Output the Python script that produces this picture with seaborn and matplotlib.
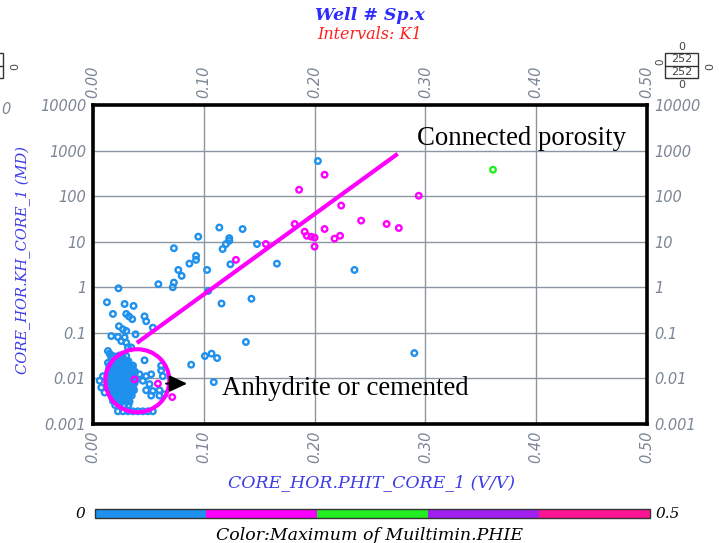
import matplotlib
matplotlib.use("Agg")
import matplotlib.pyplot as plt
import matplotlib.transforms as mtransforms
from matplotlib.patches import Ellipse, Rectangle
from matplotlib.colors import ListedColormap, BoundaryNorm
import numpy as np
import pandas as pd
import seaborn as sns

# ---- core data: porosity (v/v) and horizontal permeability (mD) ----
# samples with Multimin PHIE in 0.0-0.1 (scattered part)
phit_low = [
    0.203, 0.236, 0.166, 0.148, 0.135, 0.114, 0.123, 0.123, 0.120, 0.117,
    0.124, 0.095, 0.093, 0.093, 0.087, 0.103, 0.073, 0.077, 0.080, 0.073,
    0.072, 0.104, 0.143, 0.059, 0.023, 0.116,
    0.0126, 0.0285, 0.0366, 0.018, 0.030, 0.0324, 0.0354, 0.0465, 0.048, 0.0234,
    0.027, 0.030, 0.0384, 0.054, 0.0165, 0.0225, 0.0285, 0.0255, 0.030, 0.0315,
    0.0345, 0.0135, 0.015, 0.0165, 0.018, 0.0135, 0.015, 0.0465, 0.036, 0.0615,
    0.0886, 0.101, 0.107, 0.112, 0.109, 0.138, 0.290,
    0.042, 0.048, 0.0525, 0.0615, 0.063, 0.045, 0.051, 0.048, 0.054, 0.060,
    0.0525, 0.060, 0.0645,
    0.0225, 0.027, 0.0315, 0.036, 0.0405, 0.045, 0.0495, 0.054,
    0.006, 0.0075, 0.0105, 0.009,
]
perm_low = [
    590, 2.4, 3.3, 8.9, 19, 20.5, 12, 10.5, 8.9, 6.9,
    3.2, 12.9, 4.9, 4.0, 3.3, 2.4, 7.2, 2.4, 1.78, 1.27,
    1.0, 0.83, 0.56, 1.17, 0.95, 0.44,
    0.47, 0.43, 0.39, 0.26, 0.26, 0.23, 0.20, 0.23, 0.18, 0.14,
    0.12, 0.11, 0.093, 0.13, 0.085, 0.081, 0.079, 0.066, 0.061, 0.048,
    0.048, 0.040, 0.035, 0.029, 0.026, 0.022, 0.019, 0.025, 0.019, 0.019,
    0.020, 0.031, 0.035, 0.028, 0.0083, 0.063, 0.036,
    0.0123, 0.0112, 0.0123, 0.015, 0.0112, 0.0089, 0.0075, 0.0055, 0.0053, 0.0055,
    0.0042, 0.0042, 0.0045,
    0.0019, 0.0019, 0.0019, 0.0019, 0.0019, 0.0019, 0.0019, 0.0019,
    0.0089, 0.0063, 0.0049, 0.0112,
]

# samples with Multimin PHIE in 0.0-0.1 (dense tight cluster)
phit_cluster = [
    0.018, 0.021, 0.024, 0.027, 0.030,
    0.0215,
    0.017, 0.020, 0.023, 0.026, 0.029, 0.032,
    0.0165, 0.0195, 0.0225, 0.0255, 0.0285, 0.0315,
    0.015, 0.018, 0.021, 0.024, 0.027, 0.030, 0.033, 0.036,
    0.0145, 0.0175, 0.0205, 0.0235, 0.0265, 0.0295, 0.0325, 0.0355,
    0.014, 0.017, 0.020, 0.023, 0.026, 0.029, 0.032, 0.035, 0.038,
    0.0135, 0.0165, 0.0195, 0.0225, 0.0255, 0.0285, 0.0315, 0.0345, 0.0375,
    0.013, 0.016, 0.019, 0.022, 0.025, 0.028, 0.031, 0.034, 0.037,
    0.0135, 0.0165, 0.0195, 0.0225, 0.0255, 0.0285, 0.0315, 0.0345, 0.0375,
    0.014, 0.017, 0.020, 0.023, 0.026, 0.029, 0.032, 0.035, 0.038,
    0.0135, 0.0165, 0.0195, 0.0225, 0.0255, 0.0285, 0.0315, 0.0345, 0.0375,
    0.015, 0.018, 0.021, 0.024, 0.027, 0.030, 0.033, 0.036,
    0.0155, 0.0185, 0.0215, 0.0245, 0.0275, 0.0305, 0.0335, 0.0365,
    0.016, 0.019, 0.022, 0.025, 0.028, 0.031, 0.034, 0.037,
    0.0165, 0.0195, 0.0225, 0.0255, 0.0285, 0.0315, 0.0345,
    0.017, 0.020, 0.023, 0.026, 0.029, 0.032, 0.035,
    0.0175, 0.0205, 0.0235, 0.0265, 0.0295, 0.0325,
    0.018, 0.021, 0.024, 0.027, 0.030, 0.033,
    0.020, 0.024, 0.028, 0.032,
]
perm_cluster = [
    0.031, 0.030, 0.032, 0.029, 0.031,
    0.027,
    0.024, 0.025, 0.023, 0.024, 0.025, 0.024,
    0.021, 0.021, 0.021, 0.021, 0.021, 0.021,
    0.019, 0.018, 0.019, 0.020, 0.018, 0.019, 0.020, 0.019,
    0.0165, 0.0165, 0.0165, 0.0165, 0.0165, 0.0165, 0.0165, 0.0165,
    0.0145, 0.015, 0.014, 0.0145, 0.015, 0.014, 0.0145, 0.015, 0.014,
    0.0127, 0.0127, 0.0127, 0.0127, 0.0127, 0.0127, 0.0127, 0.0127, 0.0127,
    0.0112, 0.011, 0.0115, 0.0112, 0.011, 0.0115, 0.0112, 0.011, 0.0115,
    0.0100, 0.0100, 0.0100, 0.0100, 0.0100, 0.0100, 0.0100, 0.0100, 0.0100,
    0.0089, 0.009, 0.0088, 0.0089, 0.009, 0.0088, 0.0089, 0.009, 0.0088,
    0.0079, 0.0079, 0.0079, 0.0079, 0.0079, 0.0079, 0.0079, 0.0079, 0.0079,
    0.0069, 0.007, 0.0068, 0.0069, 0.007, 0.0068, 0.0069, 0.007,
    0.0061, 0.0061, 0.0061, 0.0061, 0.0061, 0.0061, 0.0061, 0.0061,
    0.0054, 0.0055, 0.0053, 0.0054, 0.0055, 0.0053, 0.0054, 0.0055,
    0.0048, 0.0048, 0.0048, 0.0048, 0.0048, 0.0048, 0.0048,
    0.0042, 0.0043, 0.0041, 0.0042, 0.0043, 0.0041, 0.0042,
    0.0037, 0.0037, 0.0037, 0.0037, 0.0037, 0.0037,
    0.0032, 0.0033, 0.0031, 0.0032, 0.0033, 0.0031,
    0.0026, 0.0026, 0.0026, 0.0026,
]

# samples with Multimin PHIE in 0.1-0.2
phit_mid = [0.209, 0.186, 0.224, 0.294, 0.242, 0.265, 0.276, 0.182, 0.191, 0.193,
            0.197, 0.200, 0.209, 0.218, 0.223, 0.200, 0.156, 0.129, 0.0375, 0.0586,
            0.0715]
perm_mid = [295, 138, 62, 102, 29, 24.5, 20, 24.5, 16.6, 13.5,
            12.9, 12.3, 19, 11.7, 13.5, 7.8, 8.9, 4.0, 0.0095, 0.0077,
            0.0039]

# samples with Multimin PHIE in 0.2-0.3
phit_high = [0.361]
perm_high = [380]

# trend line through the connected-porosity samples
trend_phit = [0.0396, 0.275]
trend_perm = [0.06, 850]

# tight-rock cluster outline (centre in data units)
cluster_phit, cluster_perm = 0.040, 0.0089

phie_bounds = [0.0, 0.1, 0.2, 0.3, 0.4, 0.5]
phie_colors = ["#1e90ee", "#ff00ff", "#22ee22", "#a020f0", "#ff1493"]
class_names = ["0.0-0.1", "0.1-0.2", "0.2-0.3"]

x_ticks = [0.0, 0.1, 0.2, 0.3, 0.4, 0.5]
x_ticklabels = ["0.00", "0.10", "0.20", "0.30", "0.40", "0.50"]
y_ticks = [0.001, 0.01, 0.1, 1, 10, 100, 1000, 10000]
y_ticklabels = ["0.001", "0.01", "0.1", "1", "10", "100", "1000", "10000"]

df = pd.concat([
    pd.DataFrame({"phit": phit_low + phit_cluster, "perm": perm_low + perm_cluster,
                  "phie": class_names[0]}),
    pd.DataFrame({"phit": phit_mid, "perm": perm_mid, "phie": class_names[1]}),
    pd.DataFrame({"phit": phit_high, "perm": perm_high, "phie": class_names[2]}),
], ignore_index=True)

sns.set_theme(style="white")
plt.rcParams["font.family"] = ["DejaVu Sans"]

W, H = 719, 543
fig = plt.figure(figsize=(W / 100, H / 100), dpi=100)
fig.patch.set_facecolor("white")

L, R, T, B = 93, 647, 105, 424
ax = fig.add_axes([L / W, 1 - B / H, (R - L) / W, (B - T) / H])

# hollow ring markers, one layer per PHIE class
palette = dict(zip(class_names, phie_colors[:3]))
for name in class_names:
    sub = df[df["phie"] == name]
    sns.scatterplot(data=sub, x="phit", y="perm", ax=ax, marker="o", s=16,
                    facecolor="none", edgecolor=palette[name], linewidth=1.7,
                    legend=False, zorder=3)

ax.set_yscale("log")
ax.set_xlim(0, 0.5)
ax.set_ylim(0.001, 10000)
ax.set_xticks(x_ticks)
ax.set_xticklabels(x_ticklabels)
ax.set_yticks(y_ticks)
ax.set_yticklabels(y_ticklabels)
ax.minorticks_off()
ax.grid(True, color="#8c96a0", linewidth=1.0)
ax.set_axisbelow(True)
for s in ax.spines.values():
    s.set_color("black")
    s.set_linewidth(2.6)

ax.tick_params(axis="both", length=0, colors="#7b8696",
               labeltop=True, labelright=True, labelsize=10.5)
ax.tick_params(axis="x", pad=5, labelrotation=90)
ax.tick_params(axis="y", pad=5)
for t in ax.xaxis.get_major_ticks() + ax.yaxis.get_major_ticks():
    t.label1.set_fontstyle("oblique")
    t.label2.set_fontstyle("oblique")

ax.set_xlabel("")
ax.set_ylabel("")

# trend line and cluster outline
ax.plot(trend_phit, trend_perm, color="#ff00ff", linewidth=3.0,
        solid_capstyle="butt", zorder=4)
ell_tr = fig.dpi_scale_trans + mtransforms.ScaledTranslation(
    cluster_phit, cluster_perm, ax.transData)
ax.add_patch(Ellipse((0, 0), width=0.64, height=0.63, transform=ell_tr,
                     fill=False, edgecolor="#ff00ff", linewidth=3.0, zorder=5))
ax.annotate("", xy=(0.0850, 0.0077), xytext=(0.0660, 0.0077),
            arrowprops=dict(arrowstyle="-|>,head_length=0.9,head_width=0.42",
                            color="black", lw=1.5, mutation_scale=12,
                            shrinkA=0, shrinkB=0),
            zorder=6)

serif = "Liberation Serif"
ax.text(0.292, 1800, "Connected porosity", family=serif, fontsize=19.3,
        color="black", va="center", ha="left", zorder=6)
ax.text(0.116, 0.0059, "Anhydrite or cemented", family=serif, fontsize=19.3,
        color="black", va="center", ha="left", zorder=6)

# titles and axis labels
lab_serif = "DejaVu Serif"
fig.text(370 / W, 1 - 15 / H, "Well # Sp.x", family=lab_serif, style="italic",
         weight="bold", fontsize=12.5, color="#2c2cff", ha="center", va="center")
fig.text(370 / W, 1 - 34 / H, "Intervals: K1", family=lab_serif, style="italic",
         fontsize=11.5, color="#ff2020", ha="center", va="center")
fig.text(371 / W, 1 - 483 / H, "CORE_HOR.PHIT_CORE_1 (V/V)", family=lab_serif,
         style="italic", fontsize=12.5, color="#3c3ce6", ha="center", va="center")
fig.text(23 / W, 1 - 260 / H, "CORE_HOR.KH_CORE_1 (MD)", family=lab_serif,
         style="italic", fontsize=10.5, color="#3c3ce6", ha="center", va="center",
         rotation=90)

# colour legend bar for Multimin PHIE
cax = fig.add_axes([95 / W, 1 - 518 / H, (650 - 95) / W, 9 / H])
cmap = ListedColormap(phie_colors)
norm = BoundaryNorm(phie_bounds, cmap.N)
sm = matplotlib.cm.ScalarMappable(norm=norm, cmap=cmap)
cb = fig.colorbar(sm, cax=cax, orientation="horizontal")
cb.set_ticks([])
cb.minorticks_off()
cax.tick_params(which="both", length=0)
cb.outline.set_edgecolor("#333333")
cb.outline.set_linewidth(1.0)
fig.text(80 / W, 1 - 514 / H, "0", family=lab_serif, style="italic", fontsize=11,
         color="black", ha="center", va="center")
fig.text(656 / W, 1 - 514 / H, "0.5", family=lab_serif, style="italic", fontsize=11,
         color="black", ha="left", va="center")
fig.text(369 / W, 1 - 535 / H, "Color:Maximum of Muiltimin.PHIE", family=lab_serif,
         style="italic", fontsize=12.5, color="black", ha="center", va="center")

# sample-count box (upper right)
box_ax = fig.add_axes([0, 0, 1, 1], facecolor="none")
box_ax.set_xlim(0, W)
box_ax.set_ylim(H, 0)
box_ax.axis("off")
box_ax.add_patch(Rectangle((665, 53), 33, 25, fill=False, edgecolor="#333333", lw=1))
box_ax.plot([665, 698], [66, 66], color="#333333", lw=1)
cnt_font = dict(family="DejaVu Sans", fontsize=8, color="#444444",
                ha="center", va="center")
box_ax.text(681.5, 59.5, "252", **cnt_font)
box_ax.text(681.5, 72, "252", **cnt_font)
box_ax.text(681.5, 47, "0", **cnt_font)
box_ax.text(681.5, 85, "0", **cnt_font)
box_ax.text(660, 62, "0", rotation=90, family="DejaVu Sans", fontsize=7.5,
            color="#444444", ha="center", va="center")
box_ax.text(710, 66, "0", rotation=90, **cnt_font)
# edge of the neighbouring panel at the far left
box_ax.add_patch(Rectangle((-30, 53), 33, 25, fill=False, edgecolor="#333333", lw=1))
box_ax.plot([-30, 3], [66, 66], color="#333333", lw=1)
box_ax.text(15, 66, "0", rotation=90, **cnt_font)
box_ax.text(6, 110, "0", family="DejaVu Sans", style="oblique", fontsize=10.5,
            color="#7b8696", ha="center", va="center")

fig.savefig("out.png", dpi=100, facecolor="white")
